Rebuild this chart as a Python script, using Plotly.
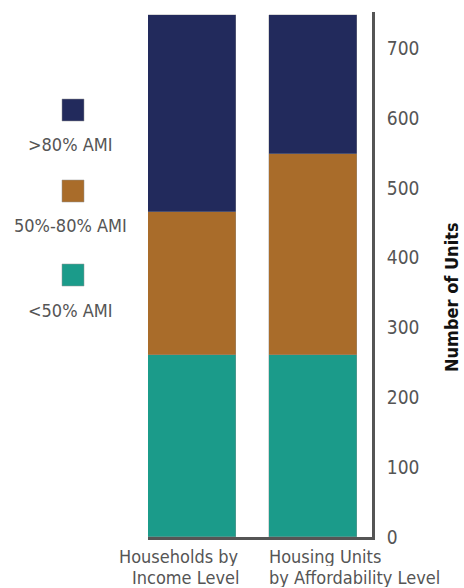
import plotly.graph_objects as go

categories = ["Households by<br>Income Level", "Housing Units<br>by Affordability Level"]
series_names = ["<50% AMI", "50%-80% AMI", ">80% AMI"]
below_50 = [260, 260]
between_50_80 = [206, 289]
above_80 = [281, 198]
colors = ["#1b9b8a", "#a96c2a", "#222a5c"]
y_ticks = [0, 100, 200, 300, 400, 500, 600, 700]

FONT = "DejaVu Sans Condensed, Liberation Sans Narrow, sans-serif"
GRAY = "#555555"

xpos = list(range(len(categories)))
fig = go.Figure()
for name, vals, col in zip(series_names, [below_50, between_50_80, above_80], colors):
    fig.add_trace(go.Bar(
        x=xpos, y=vals, name=name, width=0.727,
        marker=dict(color=col, line=dict(color="rgba(150,150,150,0.6)", width=0.6)),
        showlegend=False,
    ))

# Category labels (each line separately for tighter spacing)
anchors = ["right", "left"]
shifts = [48, -45]
for i, cat in enumerate(categories):
    for j, line in enumerate(cat.split("<br>")):
        fig.add_annotation(
            x=xpos[i], y=0, xref="x", yref="y", text=line, showarrow=False,
            xanchor=anchors[i], yanchor="top", xshift=shifts[i],
            yshift=-9 - 21 * j, height=19, borderpad=0, valign="middle",
            font=dict(family=FONT, size=18, color=GRAY),
        )

# Custom legend (squares above labels), top to bottom
legend_y = [110, 191, 275]
label_y = [144, 225, 310]
for k, (name, col) in enumerate(zip(series_names[::-1], colors[::-1])):
    fig.add_shape(type="rect", xref="paper", yref="paper",
                  x0=(62 - 148) / 224, x1=(84 - 148) / 224,
                  y0=(537 - legend_y[k] - 11) / 525,
                  y1=(537 - legend_y[k] + 11) / 525,
                  fillcolor=col, line=dict(color="rgba(150,150,150,0.5)", width=1))
    fig.add_annotation(x=(70 - 148) / 224, y=(537 - label_y[k]) / 525,
                       xref="paper", yref="paper", text=name, showarrow=False,
                       xanchor="center", yanchor="middle",
                       font=dict(family=FONT, size=18, color=GRAY))

fig.add_annotation(x=(451 - 148) / 224, y=(537 - 297) / 525, xref="paper", yref="paper",
                   text="<b>Number of Units</b>", textangle=-90, showarrow=False,
                   xanchor="center", yanchor="middle",
                   font=dict(family=FONT, size=18, color="#111111"))

fig.update_layout(
    width=464, height=588,
    margin=dict(l=148, r=92, t=12, b=51),
    barmode="stack", bargap=0,
    plot_bgcolor="white", paper_bgcolor="white",
    xaxis=dict(range=[-0.3636, 1.4876], showticklabels=False, showgrid=False,
               zeroline=False, showline=True, linecolor=GRAY, linewidth=3,
               ticks=""),
    yaxis=dict(range=[0, 752], side="right", tickvals=y_ticks, showgrid=False,
               zeroline=False, showline=True, linecolor=GRAY, linewidth=3,
               ticks="", ticklabelstandoff=8,
               tickfont=dict(family=FONT, size=19, color=GRAY)),
)

fig.write_html("out.html")
